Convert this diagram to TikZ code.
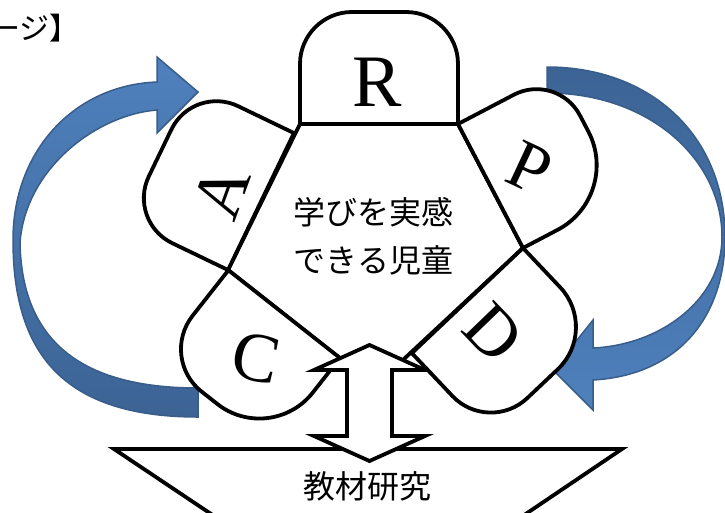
\documentclass[tikz,border=0pt]{standalone}
\usepackage{fontspec}
\setmainfont{Liberation Serif}
\newfontfamily\jpfont{Noto Sans CJK JP}
\definecolor{blueL}{HTML}{4F81BD}
\definecolor{blueD}{HTML}{3C6394}
\definecolor{blueE}{HTML}{385D8A}
% #1 inner start point, #2 angle, #3 width, #4 depth, #5 radius at start, #6 radius at end
\newcommand{\drawtab}[6]{%
  \begin{scope}[shift={#1}, rotate=#2]
    \draw[tabstyle] (0,0) -- (0,#4-#5) arc[start angle=180,end angle=90,radius=#5]
      -- (#3-#6,#4) arc[start angle=90,end angle=0,radius=#6] -- (#3,0) -- cycle;
  \end{scope}}
\begin{document}
\begin{tikzpicture}[x=1pt,y=1pt,
  tabstyle/.style={draw=black, fill=white, line width=3.8pt},
  bluearrow/.style={draw=blueE, line width=1.5pt},
  letter/.style={font=\fontsize{70}{70}\selectfont, inner sep=0pt},
  jptext/.style={font=\jpfont\fontsize{32}{48}\selectfont, align=center, inner sep=0pt}]
\useasboundingbox (0,0) rectangle (725,-512);
\clip (0,0) rectangle (725,-512);

% title fragment
\node[font=\jpfont\fontsize{30}{30}\selectfont, anchor=east, inner sep=0pt] (title) at (80,-28) {ージ】};

% blue curved arrows
\path[bluearrow, top color=blueL, bottom color=blueD]
  (198,-417) .. controls (60,-417) and (13,-350) .. (13,-240)
  .. controls (13,-150) and (75,-85) .. (157,-82)
  -- (157,-57) -- (198,-92) -- (157,-133) -- (157,-110)
  .. controls (95,-115) and (25,-170) .. (20,-243)
  .. controls (22,-340) and (80,-388) .. (198,-388) -- cycle;
\path[bluearrow, top color=blueD, bottom color=blueL]
  (547,-67) .. controls (650,-67) and (725,-135) .. (725,-237)
  .. controls (725,-315) and (680,-375) .. (593,-380)
  -- (593,-410) -- (553,-370) -- (593,-320) -- (593,-348)
  .. controls (660,-345) and (722,-300) .. (722,-237)
  .. controls (722,-160) and (650,-93) .. (547,-93) -- cycle;

% base trapezoid
\draw[tabstyle] (114,-449) -- (622,-449) -- (502,-530) -- (235,-530) -- cycle;
\node[jptext] (base) at (367,-486) {教材研究};

% centre pentagon
\draw[tabstyle] (300,-124) -- (458,-124) -- (523,-248) -- (375,-386) -- (228,-270) -- cycle;

% tabs
\drawtab{(228,-270)}{64.28}{152}{112}{50}{50}   % A
\drawtab{(300,-124)}{0}{158}{112}{52}{52}       % R
\drawtab{(458,-124)}{-62.34}{140}{112}{49}{73}  % P
\drawtab{(340,-358)}{141.8}{142}{112}{68}{54}   % C

% double arrow
\draw[tabstyle] (369.5,-345) -- (425,-370) -- (392,-370) -- (392,-436) -- (425,-436)
  -- (369.5,-461) -- (314,-436) -- (347,-436) -- (347,-370) -- (314,-370) -- cycle;

\drawtab{(523,-248)}{-136.6}{153}{112}{58}{53}  % D

% letters
\node[letter, font=\fontsize{74}{74}\selectfont] (R) at (377,-82) {R};
\node[letter, rotate=-25] (P) at (530,-168) {P};
\node[letter, rotate=70] (A) at (221,-192) {A};
\node[letter, rotate=-12] (C) at (256,-358) {C};
\node[letter, rotate=-46] (D) at (493,-333) {D};

% centre text
\node[jptext] (goal) at (373.5,-236) {学びを実感\\できる児童};
\end{tikzpicture}
\end{document}
